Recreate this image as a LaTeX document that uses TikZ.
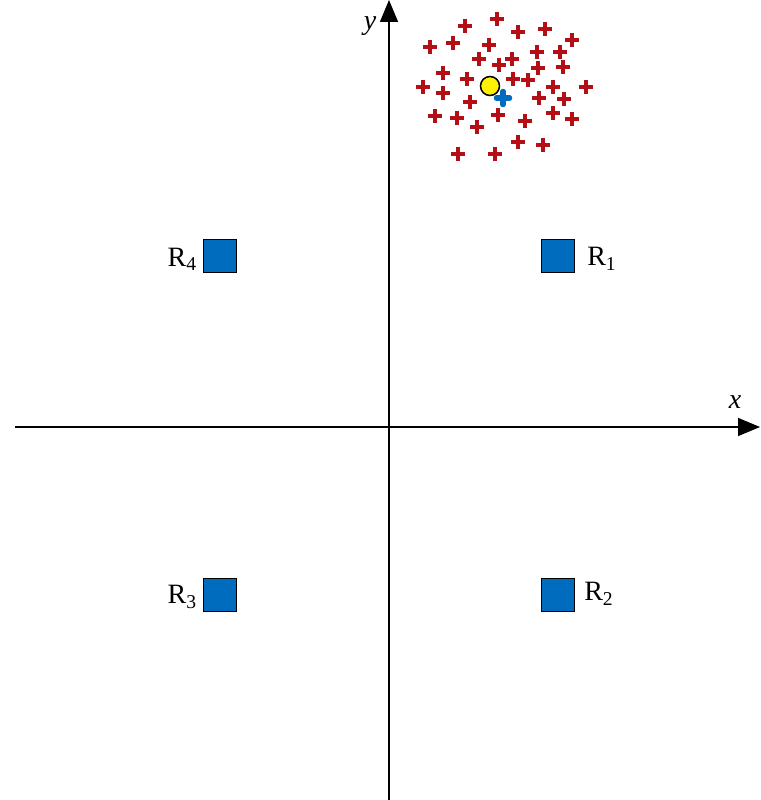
\documentclass[tikz,border=0pt]{standalone}
\usepackage{fontspec}
\setmainfont{Liberation Serif}
\usetikzlibrary{arrows.meta}
\definecolor{pred}{RGB}{180,15,20}
\definecolor{sqblue}{RGB}{0,108,190}
\begin{document}
\begin{tikzpicture}[x=1pt,y=-1pt,
  axis/.style={line width=1.6pt,-{Triangle[length=22pt,width=18pt]}},
  anchorsq/.style={draw=black,line width=1.2pt,fill=sqblue,minimum size=33pt,inner sep=0pt},
  lbl/.style={font=\fontsize{28}{32}\selectfont,inner sep=0pt},
  axlbl/.style={font=\fontsize{28}{32}\selectfont\itshape,inner sep=0pt},
  redplus/.pic={\draw[pred,line width=3.5pt] (-7,0)--(7,0) (0,-7)--(0,7);},
  blueplus/.pic={\draw[sqblue,line width=5.5pt,line cap=round] (-6.5,0)--(6.5,0) (0,-6.5)--(0,6.5);}
]
\useasboundingbox (0,0) rectangle (760,800);
\coordinate (xs) at (15,427);
\coordinate (xe) at (760,427);
\coordinate (ys) at (389,800);
\coordinate (ye) at (389,0);
\draw[axis] (xs) -- (xe);
\draw[axis] (ys) -- (ye);
\node[axlbl] (xl) at (735,402) {x};
\node[axlbl] (yl) at (370,26) {y};
\node[anchorsq] (R1) at (558,256) {};
\node[anchorsq] (R2) at (558,595) {};
\node[anchorsq] (R3) at (220,595) {};
\node[anchorsq] (R4) at (220,256) {};
\node[lbl,anchor=west] (L1) at ([xshift=12pt,yshift=-3pt]R1.east) {R\textsubscript{1}};
\node[lbl,anchor=west] (L2) at ([xshift=9pt,yshift=1pt]R2.east) {R\textsubscript{2}};
\node[lbl,anchor=east] (L3) at ([xshift=-6pt,yshift=-2pt]R3.west) {R\textsubscript{3}};
\node[lbl,anchor=east] (L4) at ([xshift=-6pt,yshift=-3pt]R4.west) {R\textsubscript{4}};
\foreach \px/\py in {497/19,465/26,518/32,545/29,572/40,430/47,453/43,489/45,537/52,560/52,
  479/59,499/65,512/59,538/68,563/67,443/73,467/79,513/79,528/80,423/87,443/93,553/87,586/87,
  470/102,539/98,564/99,435/116,457/118,498/115,553/113,572/119,477/127,525/121,518/142,543/145,
  458/154,495/154}
  \pic at (\px,\py) {redplus};
\pic at (503,98) {blueplus};
\node[circle,draw=black,line width=1.5pt,fill=yellow,minimum size=19pt,inner sep=0pt] (est) at (490,86) {};
\end{tikzpicture}
\end{document}
